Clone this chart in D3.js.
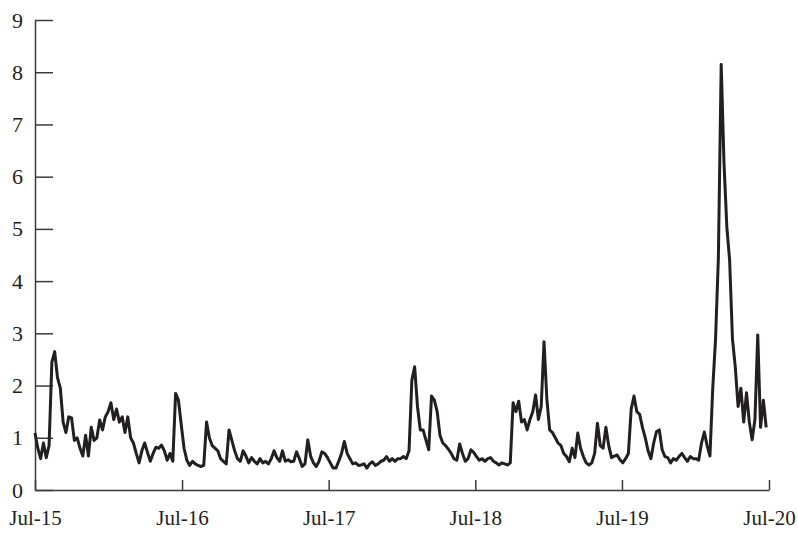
<!DOCTYPE html>
<html>
<head>
<meta charset="utf-8">
<script src="https://cdn.jsdelivr.net/npm/d3@7"></script>
<style>
  body { margin: 0; background: #fff; }
  svg { display: block; }
  text { font-family: "Liberation Serif", "DejaVu Serif", serif; fill: #231f20; }
</style>
</head>
<body>
<svg id="chart" width="798" height="534"></svg>
<script>
"use strict";

// weekly series, first week starts 1 Jul 2015
var startDate = "2015-07-01";
var values = [
  1.09, 0.8, 0.6, 0.9, 0.62, 0.85, 2.45, 2.65, 2.15, 1.95,
  1.3, 1.1, 1.4, 1.38, 0.95, 1.0, 0.8, 0.65, 1.05, 0.65,
  1.2, 0.95, 1.0, 1.34, 1.15, 1.4, 1.5, 1.67, 1.35, 1.55,
  1.3, 1.4, 1.1, 1.4, 1.0, 0.9, 0.7, 0.52, 0.75, 0.9,
  0.72, 0.55, 0.7, 0.82, 0.8, 0.86, 0.75, 0.57, 0.7, 0.55,
  1.85, 1.72, 1.25, 0.8, 0.57, 0.47, 0.55, 0.5, 0.47, 0.45,
  0.47, 1.3, 1.0, 0.85, 0.8, 0.75, 0.6, 0.55, 0.5, 1.15,
  0.95, 0.75, 0.6, 0.55, 0.75, 0.65, 0.52, 0.62, 0.55, 0.5,
  0.6, 0.52, 0.55, 0.5, 0.6, 0.75, 0.62, 0.55, 0.75, 0.55,
  0.58, 0.54, 0.55, 0.73, 0.6, 0.45, 0.5, 0.96, 0.65, 0.52,
  0.45, 0.55, 0.73, 0.7, 0.62, 0.52, 0.42, 0.42, 0.55, 0.7,
  0.93, 0.7, 0.6, 0.5, 0.52, 0.47, 0.48, 0.5, 0.42, 0.5,
  0.54, 0.47, 0.5, 0.55, 0.57, 0.64, 0.55, 0.6, 0.55, 0.6,
  0.6, 0.64, 0.6, 0.75, 2.1, 2.36, 1.6, 1.15, 1.15, 0.96,
  0.77, 1.8, 1.72, 1.5, 1.05, 0.9, 0.85, 0.78, 0.7, 0.6,
  0.57, 0.88, 0.7, 0.55, 0.6, 0.77, 0.72, 0.64, 0.57, 0.6,
  0.55, 0.6, 0.62, 0.55, 0.52, 0.48, 0.52, 0.5, 0.48, 0.52,
  1.67, 1.5, 1.7, 1.3, 1.35, 1.15, 1.35, 1.5, 1.82, 1.35,
  1.6, 2.84, 1.75, 1.15, 1.1, 1.0, 0.9, 0.85, 0.7, 0.64,
  0.54, 0.8, 0.62, 1.09, 0.8, 0.64, 0.52, 0.48, 0.52, 0.7,
  1.28, 0.85, 0.8, 1.2, 0.85, 0.62, 0.65, 0.67, 0.58, 0.52,
  0.6, 0.7, 1.55, 1.8, 1.5, 1.45, 1.2, 1.0, 0.75, 0.6,
  0.9, 1.12, 1.15, 0.77, 0.64, 0.62, 0.52, 0.6, 0.57, 0.64,
  0.7, 0.62, 0.55, 0.64, 0.6, 0.6, 0.57, 0.9, 1.11, 0.85,
  0.65, 1.95, 2.9, 4.45, 8.15, 6.26, 5.04, 4.4, 2.9, 2.36,
  1.6, 1.95, 1.3, 1.86, 1.3, 0.96, 1.35, 2.97, 1.2, 1.72,
  1.2
];
var tickDates = ["2015-07-01", "2016-07-01", "2017-07-01", "2018-07-01", "2019-07-01", "2020-07-01"];
var tickLabels = ["Jul-15", "Jul-16", "Jul-17", "Jul-18", "Jul-19", "Jul-20"];
var yTicks = [0, 1, 2, 3, 4, 5, 6, 7, 8, 9];

(function(){
    var parse = d3.timeParse("%Y-%m-%d");
    var start = parse(startDate);
    var data = values.map(function(v, i){
        return { date: d3.timeDay.offset(start, 7 * i), value: v };
    });

    var svg = d3.select("#chart");
    var mLeft = 35, mRight = 769, mTop = 20, mBottom = 490;

    var x = d3.scaleTime()
        .domain([parse(tickDates[0]), parse(tickDates[tickDates.length - 1])])
        .range([mLeft, mRight]);
    var y = d3.scaleLinear().domain([0, 9]).range([mBottom, mTop]);

    // y axis, ticks point inward
    var yAxis = svg.append("g")
        .attr("transform", "translate(" + mLeft + ",0)")
        .call(d3.axisRight(y).tickValues(yTicks).tickSize(18).tickSizeOuter(0));
    yAxis.select(".domain").attr("stroke", "#3b3b3b").attr("stroke-width", 1.5);
    yAxis.selectAll(".tick line").attr("stroke", "#3b3b3b").attr("stroke-width", 1.5);
    yAxis.selectAll(".tick text")
        .attr("x", -12)
        .attr("text-anchor", "end")
        .attr("font-size", 22)
        .attr("font-family", null)
        .attr("fill", "#231f20");

    // x axis, ticks point up
    var xAxis = svg.append("g")
        .attr("transform", "translate(0," + mBottom + ")")
        .call(d3.axisTop(x)
            .tickValues(tickDates.map(parse))
            .tickFormat(function(d, i){ return tickLabels[i]; })
            .tickSize(10).tickSizeOuter(0));
    xAxis.select(".domain").attr("stroke", "#3b3b3b").attr("stroke-width", 1.5);
    xAxis.selectAll(".tick line").attr("stroke", "#3b3b3b").attr("stroke-width", 1.5);
    xAxis.selectAll(".tick text")
        .attr("y", 28)
        .attr("dy", "0.35em")
        .attr("font-size", 21)
        .attr("font-family", null)
        .attr("fill", "#231f20");

    // series
    var line = d3.line()
        .x(function(d){ return x(d.date); })
        .y(function(d){ return y(d.value); });

    svg.append("path")
        .datum(data)
        .attr("fill", "none")
        .attr("stroke", "#231f20")
        .attr("stroke-width", 3)
        .attr("stroke-linejoin", "round")
        .attr("d", line);
})();
</script>
</body>
</html>
